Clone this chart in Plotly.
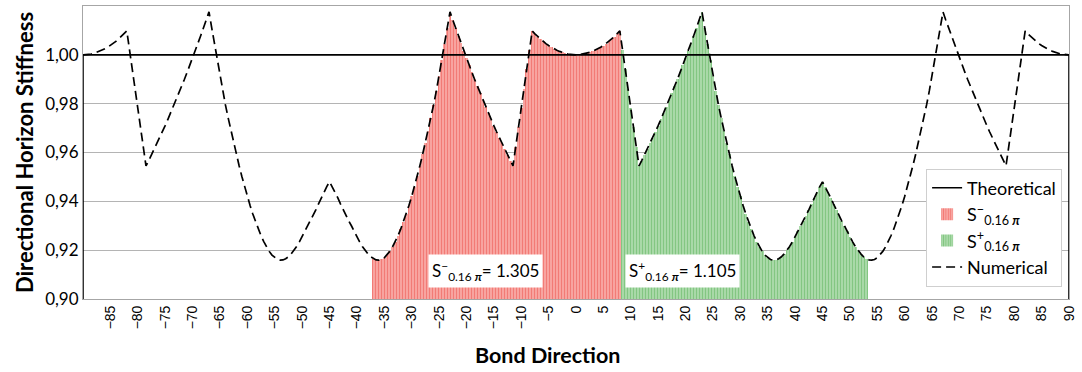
import plotly.graph_objects as go

# Bond direction grid (degrees), 0.5 degree spacing from -90 to 90
bond_angle = [i * 0.5 for i in range(-180, 181)]

# Numerical directional horizon stiffness at each bond direction
stiffness = [
    # -90 .. -45
    1.0000, 1.0000, 1.0002, 1.0003, 1.0006, 1.0010, 1.0014, 1.0019, 1.0025, 1.0031,
    1.0038, 1.0046, 1.0055, 1.0065, 1.0075, 1.0086, 1.0098, 1.0019, 0.9940, 0.9861,
    0.9782, 0.9703, 0.9624, 0.9545, 0.9567, 0.9590, 0.9613, 0.9637, 0.9661, 0.9685,
    0.9710, 0.9736, 0.9762, 0.9788, 0.9815, 0.9843, 0.9871, 0.9899, 0.9928, 0.9957,
    0.9987, 1.0017, 1.0048, 1.0079, 1.0111, 1.0143, 1.0176, 1.0110, 1.0045, 0.9980,
    0.9915, 0.9852, 0.9795, 0.9742, 0.9690, 0.9640, 0.9592, 0.9546, 0.9502, 0.9460,
    0.9420, 0.9383, 0.9348, 0.9316, 0.9286, 0.9259, 0.9235, 0.9213, 0.9195, 0.9180,
    0.9169, 0.9162, 0.9159, 0.9160, 0.9165, 0.9173, 0.9185, 0.9199, 0.9215, 0.9234,
    0.9255, 0.9277, 0.9300, 0.9320, 0.9341, 0.9365, 0.9390, 0.9415, 0.9440, 0.9460,
    0.9480,
    # -44.5 .. 0
    0.9460, 0.9440, 0.9415, 0.9390, 0.9365, 0.9341, 0.9320, 0.9300, 0.9277, 0.9255,
    0.9234, 0.9215, 0.9199, 0.9185, 0.9173, 0.9165, 0.9160, 0.9159, 0.9162, 0.9169,
    0.9180, 0.9195, 0.9213, 0.9235, 0.9259, 0.9286, 0.9316, 0.9348, 0.9383, 0.9420,
    0.9460, 0.9502, 0.9546, 0.9592, 0.9640, 0.9690, 0.9742, 0.9795, 0.9852, 0.9915,
    0.9980, 1.0045, 1.0110, 1.0176, 1.0143, 1.0111, 1.0079, 1.0048, 1.0017, 0.9987,
    0.9957, 0.9928, 0.9899, 0.9871, 0.9843, 0.9815, 0.9788, 0.9762, 0.9736, 0.9710,
    0.9685, 0.9661, 0.9637, 0.9613, 0.9590, 0.9567, 0.9545, 0.9624, 0.9703, 0.9782,
    0.9861, 0.9940, 1.0019, 1.0098, 1.0086, 1.0075, 1.0065, 1.0055, 1.0046, 1.0038,
    1.0031, 1.0025, 1.0019, 1.0014, 1.0010, 1.0006, 1.0003, 1.0002, 1.0000, 1.0000,
    # 0.5 .. 45
    1.0000, 1.0002, 1.0003, 1.0006, 1.0010, 1.0014, 1.0019, 1.0025, 1.0031, 1.0038,
    1.0046, 1.0055, 1.0065, 1.0075, 1.0086, 1.0098, 1.0019, 0.9940, 0.9861, 0.9782,
    0.9703, 0.9624, 0.9545, 0.9567, 0.9590, 0.9613, 0.9637, 0.9661, 0.9685, 0.9710,
    0.9736, 0.9762, 0.9788, 0.9815, 0.9843, 0.9871, 0.9899, 0.9928, 0.9957, 0.9987,
    1.0017, 1.0048, 1.0079, 1.0111, 1.0143, 1.0176, 1.0110, 1.0045, 0.9980, 0.9915,
    0.9852, 0.9795, 0.9742, 0.9690, 0.9640, 0.9592, 0.9546, 0.9502, 0.9460, 0.9420,
    0.9383, 0.9348, 0.9316, 0.9286, 0.9259, 0.9235, 0.9213, 0.9195, 0.9180, 0.9169,
    0.9162, 0.9159, 0.9160, 0.9165, 0.9173, 0.9185, 0.9199, 0.9215, 0.9234, 0.9255,
    0.9277, 0.9300, 0.9320, 0.9341, 0.9365, 0.9390, 0.9415, 0.9440, 0.9460, 0.9480,
    # 45.5 .. 90
    0.9460, 0.9440, 0.9415, 0.9390, 0.9365, 0.9341, 0.9320, 0.9300, 0.9277, 0.9255,
    0.9234, 0.9215, 0.9199, 0.9185, 0.9173, 0.9165, 0.9160, 0.9159, 0.9162, 0.9169,
    0.9180, 0.9195, 0.9213, 0.9235, 0.9259, 0.9286, 0.9316, 0.9348, 0.9383, 0.9420,
    0.9460, 0.9502, 0.9546, 0.9592, 0.9640, 0.9690, 0.9742, 0.9795, 0.9852, 0.9915,
    0.9980, 1.0045, 1.0110, 1.0176, 1.0143, 1.0111, 1.0079, 1.0048, 1.0017, 0.9987,
    0.9957, 0.9928, 0.9899, 0.9871, 0.9843, 0.9815, 0.9788, 0.9762, 0.9736, 0.9710,
    0.9685, 0.9661, 0.9637, 0.9613, 0.9590, 0.9567, 0.9545, 0.9624, 0.9703, 0.9782,
    0.9861, 0.9940, 1.0019, 1.0098, 1.0086, 1.0075, 1.0065, 1.0055, 1.0046, 1.0038,
    1.0031, 1.0025, 1.0019, 1.0014, 1.0010, 1.0006, 1.0003, 1.0002, 1.0000, 1.0000,
]

# Theoretical (isotropic) stiffness outline
theoretical_x = [-90, -90, 90, 90]
theoretical_y = [0.90, 1.00, 1.00, 0.90]

# Integration windows and their integrated values
s_minus_span = (-37.0, 8.0)
s_plus_span = (8.5, 53.0)
s_minus_value = 1.305
s_plus_value = 1.105

x_ticks = list(range(-85, 95, 5))
y_ticks = [0.90, 0.92, 0.94, 0.96, 0.98, 1.00, 1.02]
y_tick_text = ["0,90", "0,92", "0,94", "0,96", "0,98", "1,00", "1,02"]

PI_SUB = "<sub>0.16 <b><i>π</i></b></sub>"
minus_label = "S<sup>−</sup>" + PI_SUB
plus_label = "S<sup>+</sup>" + PI_SUB

FONT = "Lato, Open Sans, sans-serif"


def window(span):
    xs, ys = [], []
    for a, v in zip(bond_angle, stiffness):
        if span[0] <= a <= span[1]:
            xs.append(a)
            ys.append(v)
    return xs, ys


red_x, red_y = window(s_minus_span)
green_x, green_y = window(s_plus_span)

fig = go.Figure()

fig.add_trace(go.Bar(
    x=red_x, y=red_y, width=0.5, name=minus_label, legendrank=2,
    marker=dict(
        color="rgb(240,110,100)", line=dict(width=0),
        pattern=dict(shape="|", fgcolor="rgb(232,32,26)", bgcolor="rgb(253,214,210)",
                     size=3, solidity=0.7),
    ),
    hoverinfo="skip",
))
fig.add_trace(go.Bar(
    x=green_x, y=green_y, width=0.5, name=plus_label, legendrank=3,
    marker=dict(
        color="rgb(110,190,110)", line=dict(width=0),
        pattern=dict(shape="|", fgcolor="rgb(48,158,48)", bgcolor="rgb(214,238,212)",
                     size=3, solidity=0.7),
    ),
    hoverinfo="skip",
))
fig.add_trace(go.Scatter(
    x=theoretical_x, y=theoretical_y, mode="lines", name="Theoretical", legendrank=1,
    line=dict(color="black", width=1.6),
))
fig.add_trace(go.Scatter(
    x=bond_angle, y=stiffness, mode="lines", name="Numerical", legendrank=4,
    line=dict(color="black", width=1.7, dash="9px,5px"),
))

label_font = dict(family=FONT, size=17, color="black")
fig.add_annotation(
    x=-16.5, y=0.9114, xref="x", yref="y", showarrow=False,
    text=f"S<sup>−</sup>{PI_SUB}= {s_minus_value:.3f}",
    bgcolor="white", font=label_font, borderpad=3,
)
fig.add_annotation(
    x=19.5, y=0.9114, xref="x", yref="y", showarrow=False,
    text=f"S<sup>+</sup>{PI_SUB}= {s_plus_value:.3f}",
    bgcolor="white", font=label_font, borderpad=3,
)
fig.add_annotation(
    x=0.471, y=-0.14, xref="paper", yref="paper", yanchor="top", showarrow=False,
    text="<b>Bond Direction</b>",
    font=dict(family=FONT, size=21.5, color="black"),
)

fig.update_layout(
    width=1082, height=372,
    margin=dict(l=83, r=8, t=5, b=73),
    plot_bgcolor="white", paper_bgcolor="white",
    barmode="overlay", bargap=0,
    showlegend=True,
    legend=dict(
        x=0.993, xanchor="right", y=0.445, yanchor="top",
        bordercolor="#cfcfcf", borderwidth=1, bgcolor="white",
        font=dict(family=FONT, size=18, color="black"),
        itemwidth=30, tracegroupgap=0,
    ),
    xaxis=dict(
        range=[-90, 90], tickmode="array", tickvals=x_ticks, tickangle=-90,
        showgrid=False, zeroline=False, showline=True, mirror=True,
        linecolor="#a6a6a6", linewidth=1, ticks="",
        tickfont=dict(family="Liberation Sans, Arial, sans-serif", size=14, color="black"),
    ),
    yaxis=dict(
        range=[0.90, 1.02], tickmode="array", tickvals=y_ticks, ticktext=y_tick_text,
        showgrid=True, gridcolor="#b4b4b4", gridwidth=1, zeroline=False,
        showline=True, mirror=True, linecolor="#a6a6a6", linewidth=1, ticks="",
        tickfont=dict(family=FONT, size=17, color="black"),
        title=dict(text="<b>Directional Horizon Stiffness</b>", standoff=5,
                   font=dict(family=FONT, size=22, color="black")),
    ),
)

fig.write_html("out.html")
